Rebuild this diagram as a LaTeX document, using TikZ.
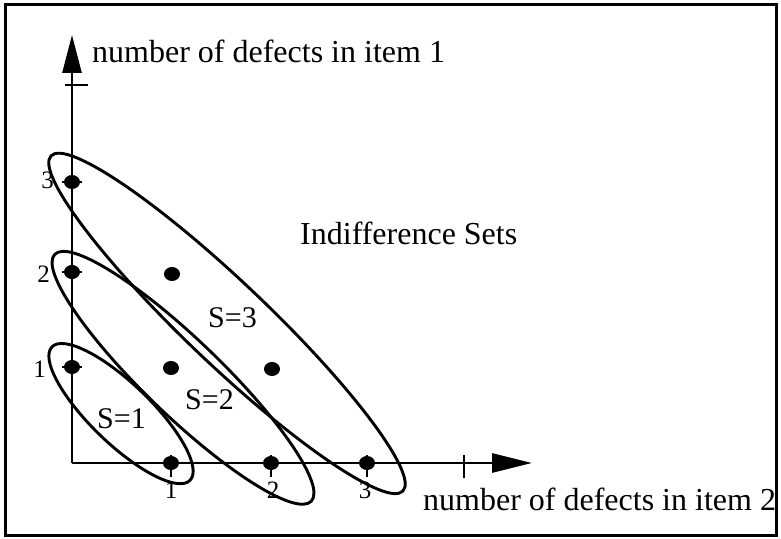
\documentclass[tikz,border=0pt]{standalone}
\usepackage{fontspec}
\setmainfont{Liberation Serif}
\usetikzlibrary{arrows.meta,shapes.geometric}
\begin{document}
\begin{tikzpicture}[x=1pt,y=1pt,
  axisline/.style={line width=2.8pt},
  setline/.style={line width=2.9pt},
  tickline/.style={line width=2.6pt},
  dotnode/.style={fill=black,ellipse,inner sep=0pt,minimum width=16pt,minimum height=14pt},
  bigtext/.style={font=\fontsize{32}{38}\selectfont,inner sep=0pt},
  slabel/.style={font=\fontsize{30}{36}\selectfont,inner sep=0pt},
  ticklabel/.style={font=\fontsize{25}{30}\selectfont,inner sep=0pt}]
\useasboundingbox (0,0) rectangle (781,538);
\draw[line width=3pt] (5.5,2.5) rectangle (776,533.5);
% axes
\coordinate (O) at (72,75);
\coordinate (ytip) at (72,503);
\coordinate (xtip) at (532,75);
\draw[axisline,-{Triangle[length=38pt,width=19pt]}] (O) -- (ytip);
\draw[axisline,-{Triangle[length=40pt,width=19pt]}] (O) -- (xtip);
% end ticks
\coordinate (yt4a) at (65,453);
\coordinate (yt4b) at (88,453);
\coordinate (xt4a) at (464,83);
\coordinate (xt4b) at (464,60);
\draw[tickline] (yt4a) -- (yt4b);
\draw[tickline] (xt4a) -- (xt4b);
% points
\coordinate (c01) at (72,171);
\coordinate (c02) at (72,266);
\coordinate (c03) at (72,356);
\coordinate (c10) at (171,75);
\coordinate (c20) at (271,75);
\coordinate (c30) at (367,75);
\foreach \p in {01,02,03}{
  \draw[tickline] ([xshift=-10pt]c\p) -- ([xshift=10pt]c\p);
  \node[dotnode] (p\p) at (c\p) {};
}
\foreach \p in {10,20,30}{
  \draw[tickline] ([yshift=8pt]c\p) -- ([yshift=-14pt]c\p);
  \node[dotnode] (p\p) at (c\p) {};
}
\node[dotnode] (p11) at (171,170) {};
\node[dotnode] (p12) at (172,264) {};
\node[dotnode] (p21) at (272,169) {};
% indifference sets
\draw[setline,rotate around={-44:(121,124.4)}] (121,124.4) ellipse [x radius=96, y radius=30];
\draw[setline,rotate around={-43.9:(183,160.2)}] (183,160.2) ellipse [x radius=178, y radius=38];
\draw[setline,rotate around={-43.6:(227,214.6)}] (227,214.6) ellipse [x radius=243, y radius=41];
% labels
\node[bigtext,anchor=base west] (ylab) at (92,475) {number of defects in item 1};
\node[bigtext,anchor=base west] (xlab) at (423,28) {number of defects in item 2};
\node[bigtext,anchor=base west] (title) at (300,293) {Indifference Sets};
\node[slabel,anchor=base west] (s3) at (208,210) {S=3};
\node[slabel,anchor=base west] (s2) at (185,128) {S=2};
\node[slabel,anchor=base west] (s1) at (97,110) {S=1};
\node[ticklabel,anchor=base east] (y1) at (46,160) {1};
\node[ticklabel,anchor=base east] (y2) at (50,255) {2};
\node[ticklabel,anchor=base east] (y3) at (54,349) {3};
\node[ticklabel,anchor=base] (x1) at (171,40) {1};
\node[ticklabel,anchor=base] (x2) at (273,40) {2};
\node[ticklabel,anchor=base] (x3) at (365,40) {3};
\end{tikzpicture}
\end{document}
